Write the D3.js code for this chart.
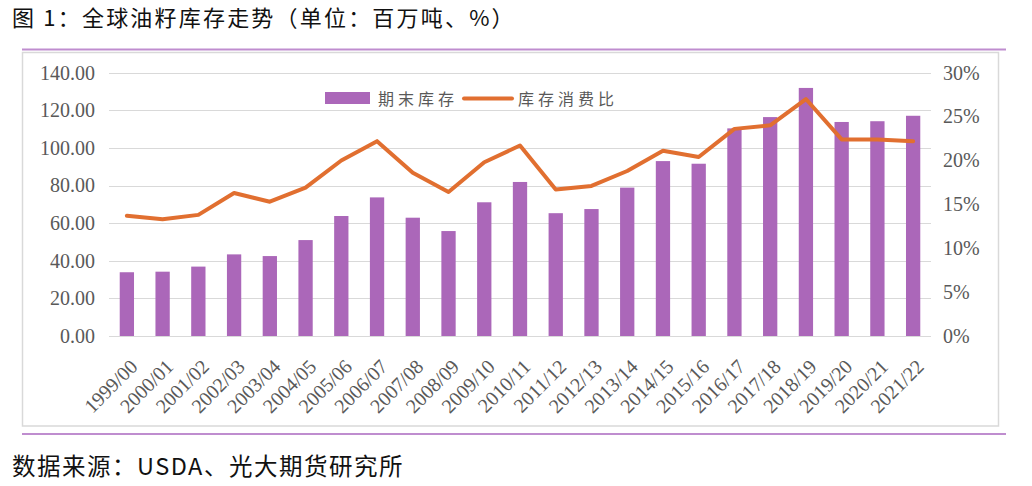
<!DOCTYPE html>
<html>
<head>
<meta charset="utf-8">
<script src="https://cdn.jsdelivr.net/npm/d3@7"></script>
<style>
  body { margin: 0; background: #fff; }
  svg { display: block; }
</style>
</head>
<body>
<svg id="chart" width="1032" height="486"></svg>
<script>
const categories = ["1999/00","2000/01","2001/02","2002/03","2003/04","2004/05","2005/06","2006/07","2007/08","2008/09","2009/10","2010/11","2011/12","2012/13","2013/14","2014/15","2015/16","2016/17","2017/18","2018/19","2019/20","2020/21","2021/22"];
const endingStocks = [33.9,34.2,36.9,43.4,42.5,51.0,63.8,73.7,62.9,55.8,71.1,81.9,65.3,67.5,78.9,93.0,91.6,110.4,116.4,131.9,113.8,114.2,117.1];
const stockToUse = [13.7,13.3,13.8,16.3,15.3,16.9,20.0,22.2,18.6,16.4,19.8,21.7,16.7,17.1,18.8,21.1,20.4,23.6,24.0,27.0,22.4,22.4,22.2];
const leftTicks = [0,20,40,60,80,100,120,140];
const rightTicks = [0,5,10,15,20,25,30];
const titleText = "图 1：全球油籽库存走势（单位：百万吨、%）";
const sourceText = "数据来源：USDA、光大期货研究所";
const legendLabels = ["期末库存","库存消费比"];

const svg = d3.select("#chart");
const plot = {x0: 109, x1: 931, y0: 72.7, y1: 336};
const barColor = "#AB67B9";
const lineColor = "#E16F30";
const textColor = "#595959";
const sansCJK = "'Noto Sans CJK SC', 'Noto Sans', sans-serif";
const serif = "'Liberation Serif', 'DejaVu Serif', serif";

// Title
svg.append("text").attr("x", 12).attr("y", 26)
  .attr("font-family", sansCJK).attr("font-size", 22).attr("letter-spacing", 2.2).attr("fill", "#111")
  .text(titleText);

// Purple rules
svg.append("line").attr("x1", 22).attr("x2", 1006).attr("y1", 49.5).attr("y2", 49.5)
  .attr("stroke", "#BF8DCF").attr("stroke-width", 2);
svg.append("line").attr("x1", 22).attr("x2", 1006).attr("y1", 434).attr("y2", 434)
  .attr("stroke", "#BF8DCF").attr("stroke-width", 2);

// Chart box
svg.append("rect").attr("x", 22.5).attr("y", 52.5).attr("width", 976).attr("height", 373.5)
  .attr("fill", "none").attr("stroke", "#D9D9D9").attr("stroke-width", 1.5);

// Source
svg.append("text").attr("x", 12).attr("y", 475)
  .attr("font-family", sansCJK).attr("font-size", 23.5).attr("letter-spacing", 1.5).attr("fill", "#111")
  .text(sourceText);

const xc = d3.scaleBand().domain(categories).range([plot.x0, plot.x1]);
const yL = d3.scaleLinear().domain([0, 140]).range([plot.y1, plot.y0]);
const yR = d3.scaleLinear().domain([0, 30]).range([plot.y1, plot.y0]);

// Gridlines
svg.append("g").selectAll("line").data(leftTicks).join("line")
  .attr("x1", plot.x0).attr("x2", plot.x1)
  .attr("y1", d => Math.round(yL(d)) + 0.5).attr("y2", d => Math.round(yL(d)) + 0.5)
  .attr("stroke", "#D9D9D9").attr("stroke-width", 1.2);

// Left axis
const leftAxis = svg.append("g").attr("transform", `translate(${plot.x0 - 14},0)`)
  .call(d3.axisLeft(yL).tickValues(leftTicks).tickFormat(d => d3.format(".2f")(d)).tickSize(0).tickPadding(0));
leftAxis.select(".domain").remove();
leftAxis.selectAll("text").attr("font-family", serif).attr("font-size", 20).attr("fill", textColor);

// Right axis
const rightAxis = svg.append("g").attr("transform", `translate(${plot.x1 + 12},0)`)
  .call(d3.axisRight(yR).tickValues(rightTicks).tickFormat(d => d + "%").tickSize(0).tickPadding(0));
rightAxis.select(".domain").remove();
rightAxis.selectAll("text").attr("font-family", serif).attr("font-size", 20).attr("fill", textColor);

// Bars
const bw = xc.bandwidth() * 0.4;
svg.append("g").selectAll("rect").data(categories).join("rect")
  .attr("x", (d) => xc(d) + xc.bandwidth() / 2 - bw / 2)
  .attr("width", bw)
  .attr("y", (d, i) => yL(endingStocks[i]))
  .attr("height", (d, i) => yL(0) - yL(endingStocks[i]))
  .attr("fill", barColor);

// Line
const line = d3.line()
  .x((d, i) => xc(categories[i]) + xc.bandwidth() / 2)
  .y(d => yR(d));
svg.append("path").datum(stockToUse)
  .attr("d", line).attr("fill", "none")
  .attr("stroke", lineColor).attr("stroke-width", 4).attr("stroke-linejoin", "round").attr("stroke-linecap", "round");

// X labels
const xAxis = svg.append("g").attr("transform", `translate(0,${plot.y1 + 10})`)
  .call(d3.axisBottom(xc).tickSize(0).tickPadding(0));
xAxis.select(".domain").remove();
xAxis.selectAll("text")
  .attr("font-family", serif).attr("font-size", 20).attr("fill", textColor)
  .attr("text-anchor", "end").attr("dy", "0.7em").attr("dx", "0")
  .attr("transform", "translate(2,12) rotate(-45)");

// Legend
const lg = svg.append("g");
lg.append("rect").attr("x", 325).attr("y", 92).attr("width", 45).attr("height", 12).attr("fill", barColor);
lg.append("text").attr("x", 378).attr("y", 105)
  .attr("font-family", sansCJK).attr("font-size", 16).attr("letter-spacing", 4).attr("fill", textColor)
  .text(legendLabels[0]);
lg.append("line").attr("x1", 464).attr("x2", 512).attr("y1", 98.5).attr("y2", 98.5)
  .attr("stroke", lineColor).attr("stroke-width", 4).attr("stroke-linecap", "round");
lg.append("text").attr("x", 518).attr("y", 105)
  .attr("font-family", sansCJK).attr("font-size", 16).attr("letter-spacing", 4).attr("fill", textColor)
  .text(legendLabels[1]);
</script>
</body>
</html>
